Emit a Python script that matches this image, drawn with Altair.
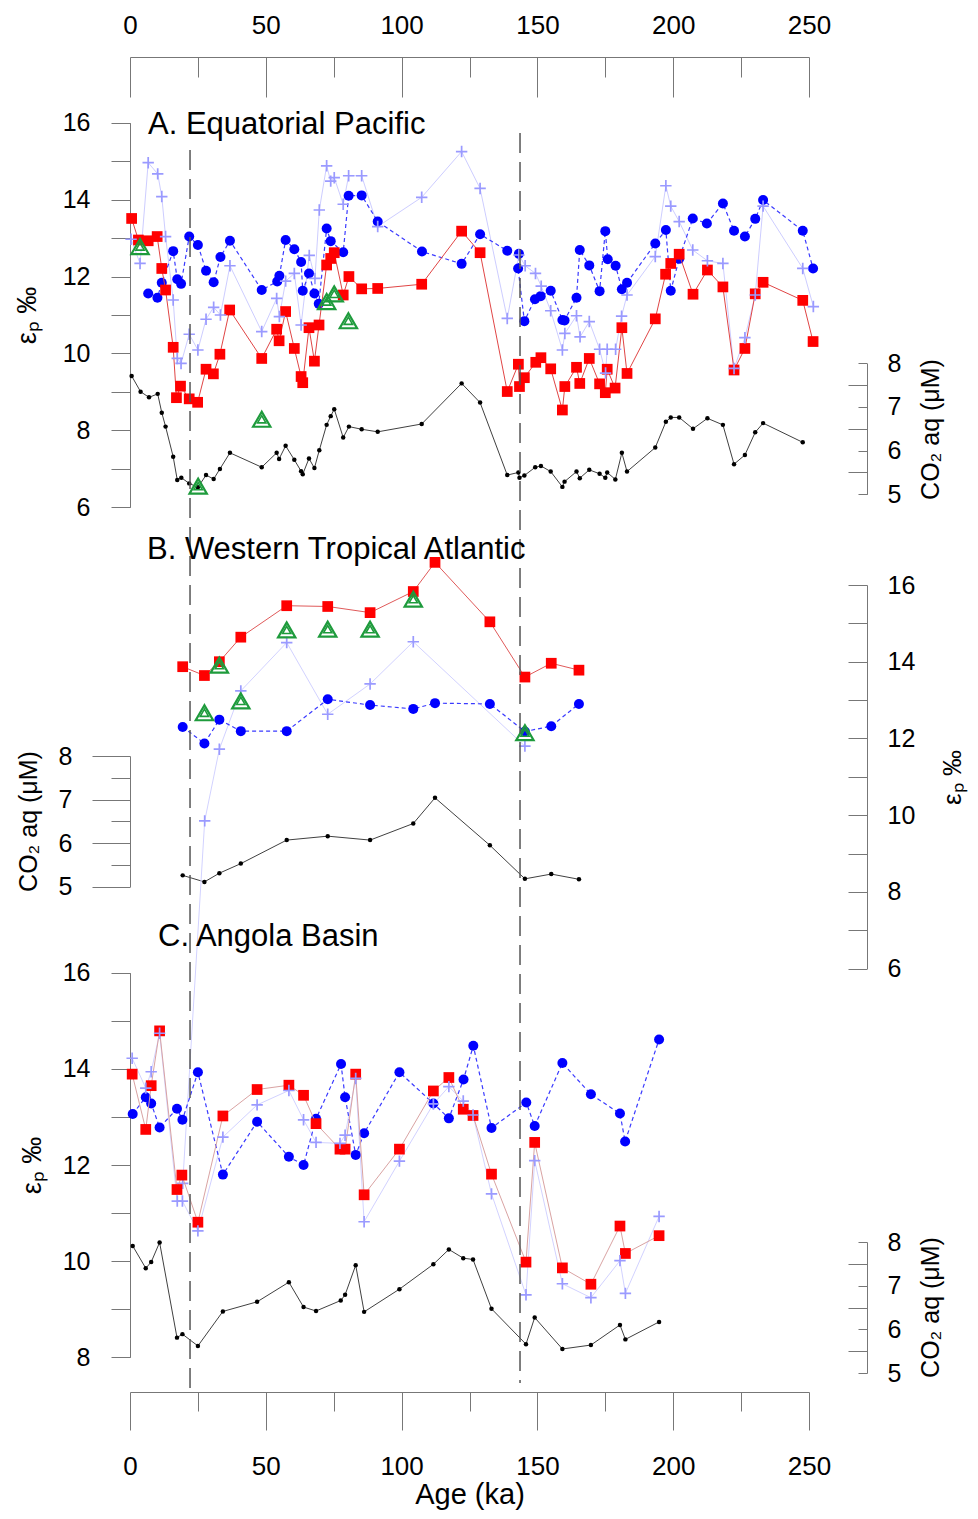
import altair as alt
import pandas as pd

FONT = "Liberation Sans"

# ---------------- data (Age in ka; eps_p in permil; CO2 aq in uM) ----------------
# A. Equatorial Pacific
a_red_age = [0.6, 3.1, 6.7, 10.0, 11.7, 13.1, 15.9, 17.1, 18.6, 21.8, 24.9, 28.0, 30.7, 33.1, 36.7, 48.5, 54.0, 54.9, 57.3, 60.5,
             63.0, 63.6, 65.9, 67.9, 69.6, 72.4, 73.9, 75.2, 78.5, 80.6, 85.3, 91.2, 107.4, 122.1, 128.9, 138.9, 143.0, 143.4, 145.2, 149.4,
             151.3, 154.9, 159.2, 160.1, 164.4, 165.6, 169.1, 172.9, 175.0, 175.7, 178.6, 181.1, 183.0, 193.4, 197.2, 199.1, 202.2, 207.3, 212.6, 218.3,
             222.4, 226.4, 230.2, 233.1, 247.7, 251.5]
a_red_ep = [13.51, 12.95, 12.93, 13.04, 12.21, 11.65, 10.16, 8.85, 9.15, 8.82, 8.73, 9.59, 9.47, 9.98, 11.13, 9.87, 10.63, 10.33, 11.09, 10.13,
            9.40, 9.24, 10.67, 9.80, 10.74, 12.30, 12.47, 12.62, 11.52, 12.00, 11.68, 11.69, 11.80, 13.18, 12.62, 9.01, 9.72, 9.14, 9.37, 9.77,
            9.89, 9.60, 8.53, 9.14, 9.64, 9.22, 9.87, 9.21, 8.98, 9.59, 9.10, 10.67, 9.48, 10.90, 12.06, 12.34, 12.58, 11.54, 12.17, 11.73,
            9.57, 10.13, 11.55, 11.85, 11.38, 10.31]
a_blue_age = [6.7, 10.1, 11.7, 15.9, 17.4, 18.8, 21.8, 25.0, 28.0, 30.8, 33.3, 36.8, 48.5, 54.2, 55.0, 57.3, 60.5, 63.0, 63.6, 65.9,
              67.9, 69.5, 72.4, 73.9, 78.5, 80.5, 85.3, 91.2, 107.5, 122.1, 128.9, 138.9, 143.2, 142.9, 145.2, 149.1, 151.2, 154.9, 159.2, 160.0,
              164.4, 165.6, 169.1, 172.9, 175.0, 175.9, 178.8, 181.1, 183.0, 193.4, 197.3, 199.1, 202.2, 207.2, 212.4, 218.3, 222.4, 226.4, 230.2, 233.1,
              247.7, 251.5]
a_blue_ep = [11.56, 11.45, 11.84, 12.66, 11.93, 11.81, 13.04, 12.82, 12.15, 11.85, 12.51, 12.93, 11.65, 11.87, 12.02, 12.95, 12.71, 12.38, 11.63, 12.08,
             11.56, 11.29, 13.25, 12.92, 12.63, 14.10, 14.11, 13.43, 12.65, 12.33, 13.10, 12.67, 12.59, 12.21, 10.84, 11.41, 11.49, 11.63, 10.87, 10.86,
             11.45, 12.69, 12.29, 11.62, 13.18, 12.45, 12.28, 11.67, 11.84, 12.86, 13.21, 11.63, 12.46, 13.51, 13.38, 13.90, 13.19, 13.04, 13.50, 13.99,
             13.19, 12.21]
a_cross_age = [0.4, 3.7, 6.7, 10.2, 11.7, 13.1, 15.9, 17.4, 18.8, 21.8, 25.0, 28.0, 30.8, 33.3, 36.8, 48.5, 54.0, 55.0, 57.3, 60.5,
               63.0, 66.0, 68.1, 69.7, 72.4, 73.9, 75.2, 78.5, 80.5, 85.3, 91.2, 107.4, 122.1, 128.9, 138.9, 143.2, 145.5, 149.3, 151.4, 154.9,
               159.2, 160.1, 164.4, 165.7, 169.1, 172.9, 175.1, 175.7, 178.8, 181.0, 183.0, 193.4, 197.3, 199.1, 202.2, 207.2, 212.6, 218.3, 222.4, 226.4,
               230.2, 233.1, 247.7, 251.6]
a_cross_ep = [12.97, 12.34, 14.96, 14.67, 14.08, 13.04, 11.39, 9.87, 9.74, 10.50, 10.09, 10.89, 11.20, 11.00, 12.28, 10.57, 11.43, 10.96, 11.88, 12.08,
              10.74, 12.55, 11.95, 13.73, 14.88, 14.48, 14.57, 13.88, 14.62, 14.62, 13.30, 14.06, 15.25, 14.29, 10.91, 12.56, 12.28, 12.08, 11.75, 11.11,
              10.09, 10.52, 10.98, 10.43, 10.83, 10.11, 9.49, 10.11, 10.11, 10.97, 11.52, 12.52, 14.36, 13.83, 13.43, 12.69, 12.41, 12.34, 9.61, 10.41,
              11.52, 13.83, 12.21, 11.22]
a_tri_age = [3.7, 25.1, 48.5, 72.4, 75.2, 80.4]
a_tri_ep = [12.78, 6.55, 8.29, 11.35, 11.55, 10.85]
a_co2_age = [0.6, 3.9, 7.0, 10.2, 11.7, 13.1, 15.9, 17.4, 18.9, 21.8, 25.0, 28.0, 30.8, 33.1, 36.8, 48.5, 54.0, 54.9, 57.3, 60.5,
             63.0, 63.6, 65.9, 67.9, 69.7, 72.4, 73.9, 75.2, 78.5, 80.6, 85.3, 91.2, 107.4, 122.1, 128.9, 138.9, 143.0, 143.4, 145.2, 149.2,
             151.3, 154.9, 159.2, 160.0, 164.4, 165.6, 169.1, 172.9, 175.0, 175.7, 178.7, 181.1, 183.0, 193.4, 197.3, 199.1, 202.2, 207.3, 212.6, 218.3,
             222.4, 226.4, 230.2, 233.1, 247.7]
a_co2 = [7.71, 7.35, 7.22, 7.30, 6.87, 6.55, 5.86, 5.33, 5.38, 5.25, 5.16, 5.44, 5.35, 5.58, 5.95, 5.62, 5.95, 5.81, 6.11, 5.79,
         5.53, 5.46, 5.82, 5.60, 6.01, 6.59, 6.79, 6.95, 6.30, 6.55, 6.49, 6.43, 6.61, 7.54, 7.10, 5.44, 5.50, 5.38, 5.43, 5.62,
         5.65, 5.52, 5.17, 5.29, 5.52, 5.37, 5.56, 5.47, 5.38, 5.50, 5.34, 5.95, 5.52, 6.07, 6.66, 6.76, 6.76, 6.50, 6.74, 6.59,
         5.69, 5.90, 6.42, 6.63, 6.19]

# B. Western Tropical Atlantic
b_age = [19.4, 27.4, 32.9, 40.8, 57.7, 72.8, 88.4, 104.3, 112.3, 132.5, 145.4, 155.1, 165.3]
b_red_ep = [13.87, 13.64, 14.00, 14.64, 15.46, 15.44, 15.28, 15.83, 16.59, 15.04, 13.60, 13.96, 13.78]
b_blue_ep = [12.30, 11.87, 12.49, 12.19, 12.19, 13.02, 12.87, 12.77, 12.92, 12.90, 12.18, 12.32, 12.90]
b_cross_age = [19.4, 27.5, 32.9, 40.8, 57.7, 72.8, 88.4, 104.3, 145.4]
b_cross_ep = [0.40, 9.85, 11.72, 13.24, 14.50, 12.63, 13.42, 14.52, 11.80]
b_tri_age = [27.4, 32.9, 40.8, 57.7, 72.8, 88.4, 104.3, 145.4]
b_tri_ep = [12.67, 13.91, 12.98, 14.83, 14.85, 14.85, 15.63, 12.15]
b_co2 = [5.26, 5.11, 5.31, 5.53, 6.07, 6.16, 6.07, 6.45, 7.04, 5.95, 5.18, 5.29, 5.17]

# C. Angola Basin
c_red_age = [0.8, 5.8, 7.8, 10.9, 17.3, 19.1, 25.0, 34.2, 46.8, 58.5, 63.9, 68.5, 77.3, 79.2, 83.1, 86.2, 99.2, 111.7, 117.4, 122.7,
             126.3, 133.1, 145.8, 149.0, 159.2, 169.7, 180.4, 182.4, 194.8]
c_red_ep = [13.89, 12.74, 13.65, 14.79, 11.49, 11.79, 10.81, 13.02, 13.57, 13.66, 13.45, 12.86, 12.33, 12.33, 13.89, 11.38, 12.33, 13.54, 13.82, 13.16,
            13.03, 11.81, 9.98, 12.47, 9.86, 9.52, 10.73, 10.16, 10.53]
c_blue_age = [1.0, 5.8, 7.8, 10.9, 17.3, 19.3, 25.0, 34.2, 46.8, 58.5, 63.9, 68.5, 77.7, 79.2, 83.1, 86.2, 99.2, 111.7, 117.4, 122.8,
              126.4, 133.1, 145.9, 149.0, 159.2, 169.7, 180.4, 182.3, 194.8]
c_blue_ep = [13.06, 13.41, 13.28, 12.78, 13.17, 12.94, 13.93, 11.80, 12.90, 12.17, 12.00, 12.96, 14.10, 13.41, 12.21, 12.66, 13.93, 13.28, 12.97, 13.78,
             14.48, 12.77, 13.30, 12.81, 14.12, 13.47, 13.07, 12.49, 14.61]
c_cross_age = [0.8, 5.8, 7.8, 10.9, 17.4, 19.3, 25.0, 34.2, 46.8, 58.5, 63.9, 68.5, 77.3, 79.2, 83.1, 86.2, 99.2, 111.7, 117.4, 122.7,
               126.3, 133.1, 145.8, 149.0, 159.2, 169.7, 180.4, 182.4, 194.8]
c_cross_ep = [14.22, 13.60, 13.94, 14.74, 11.25, 11.25, 10.63, 12.58, 13.25, 13.55, 12.94, 12.47, 12.45, 12.62, 13.80, 10.82, 12.08, 13.27, 13.63, 13.33,
              13.04, 11.40, 9.30, 12.09, 9.53, 9.24, 10.01, 9.33, 10.93]
c_co2_age = [1.0, 5.8, 7.8, 10.9, 17.3, 19.3, 25.0, 34.2, 46.8, 58.5, 63.9, 68.5, 77.6, 79.2, 83.1, 86.2, 99.2, 111.7, 117.4, 122.7,
             126.3, 133.1, 145.8, 149.0, 159.2, 169.7, 180.4, 182.4, 194.8]
c_co2 = [7.91, 7.40, 7.54, 7.99, 5.81, 5.89, 5.62, 6.41, 6.63, 7.08, 6.51, 6.42, 6.66, 6.79, 7.47, 6.40, 6.92, 7.49, 7.83, 7.63,
         7.60, 6.47, 5.66, 6.27, 5.55, 5.64, 6.10, 5.77, 6.17]

# guide values
x_major = [0, 50, 100, 150, 200, 250]
x_minor = [25, 75, 125, 175, 225]
ep_ticks_a = [6, 7, 8, 9, 10, 11, 12, 13, 14, 15, 16]
ep_ticks_c = [8, 9, 10, 11, 12, 13, 14, 15, 16]
co2_major = [5, 6, 7, 8]
co2_minor = [5.5, 6.5, 7.5]
dashed_ages = [22.1, 143.6]
panel_titles = ["A. Equatorial Pacific", "B. Western Tropical Atlantic", "C. Angola Basin"]
EP_TITLE = "\u03b5\u209a \u2030"
CO2_TITLE = "CO\u2082 aq (\u03bcM)"
X_TITLE = "Age (ka)"

# ---------------- layout ----------------
W, H = 679, 1384
XS = alt.Scale(domain=[0, 250], nice=False, zero=False)
X = alt.X("age:Q", scale=XS, axis=None)


def ys(domain, rng):
    return alt.Scale(domain=domain, range=rng, nice=False, zero=False)


A_EP = ys([6, 16], [499.3, 114.7])
A_CO2 = ys([5, 8], [486.3, 355.3])
B_EP = ys([6, 16], [960.6, 577.0])
B_CO2 = ys([5, 8], [878.7, 748.0])
C_EP = ys([8, 16], [1349.3, 964.7])
C_CO2 = ys([5, 8], [1365.0, 1234.0])

GREY = "#777777"
RED = "#FF0000"
BLUE = "#0000FF"
LBLUE = "#9A9AFF"
GREEN = "#1E9B3C"
CROSS = "M-1,0L1,0M0,-1L0,1"


def df(ages, vals):
    return pd.DataFrame({"age": ages, "v": vals, "i": list(range(len(ages)))})


def line(d, scale, color, width=1.0, dash=None):
    kw = dict(color=color, strokeWidth=width)
    if dash:
        kw["strokeDash"] = dash
    return alt.Chart(d).mark_line(**kw).encode(
        x=X, y=alt.Y("v:Q", scale=scale, axis=None), order="i:Q")


def pts(d, scale, kind, **kw):
    ch = alt.Chart(d)
    if kind == "circle":
        m = ch.mark_circle(opacity=1, **kw)
    elif kind == "square":
        m = ch.mark_square(opacity=1, **kw)
    else:
        m = ch.mark_point(opacity=1, **kw)
    return m.encode(x=X, y=alt.Y("v:Q", scale=scale, axis=None))


def panel(red, blue, cross, tri, co2, ep_s, co2_s, red_line_color, cross_line_color):
    L = []
    L.append(line(co2, co2_s, "#404040", 1.0))
    L.append(pts(co2, co2_s, "circle", size=20, color="black"))
    L.append(line(cross, ep_s, cross_line_color, 1.0))
    L.append(line(blue, ep_s, "#3A3AFF", 1.2, [4, 3]))
    L.append(pts(blue, ep_s, "circle", size=100, color=BLUE))
    L.append(line(red, ep_s, red_line_color, 1.0))
    L.append(pts(red, ep_s, "square", size=115, color=RED))
    L.append(pts(cross, ep_s, "point", shape=CROSS, size=130, filled=False, color=LBLUE, strokeWidth=1.7))
    if tri is not None:
        L.append(pts(tri, ep_s, "point", shape="triangle-up", size=300, filled=False, color=GREEN, strokeWidth=2.2))
        L.append(pts(tri, ep_s, "point", shape="triangle-up", size=70, filled=False, color=GREEN, strokeWidth=1.6))
    return L


AX = dict(grid=False, labelFont=FONT, labelFontSize=25, labelColor="black", tickColor=GREY, domainColor=GREY,
          tickWidth=1, domainWidth=1, titleFont=FONT, titleFontSize=25, titleColor="black", titleFontWeight="normal",
          labelFlush=False, labelOverlap=False)


def yaxis(scale, values, **kw):
    opts = dict(AX)
    opts.update(kw)
    if "title" not in opts:
        opts["title"] = None
    d = pd.DataFrame({"t": values})
    return alt.Chart(d).mark_point(opacity=0).encode(
        y=alt.Y("t:Q", scale=scale, axis=alt.Axis(values=values, **opts)))


def xaxis(values, **kw):
    opts = dict(AX)
    opts.update(kw)
    if "title" not in opts:
        opts["title"] = None
    d = pd.DataFrame({"t": values})
    return alt.Chart(d).mark_point(opacity=0).encode(
        x=alt.X("t:Q", scale=XS, axis=alt.Axis(values=values, **opts)))


EVEN = "datum.value % 2 == 0 ? datum.label : ''"
RIGHT_X = 737  # position of the right-hand axes inside the view

layers = []
# data
layers += panel(df(a_red_age, a_red_ep), df(a_blue_age, a_blue_ep), df(a_cross_age, a_cross_ep),
                df(a_tri_age, a_tri_ep), df(a_co2_age, a_co2), A_EP, A_CO2, "#E04545", "#CDCDFF")
layers += panel(df(b_age, b_red_ep), df(b_age, b_blue_ep), df(b_cross_age, b_cross_ep),
                df(b_tri_age, b_tri_ep), df(b_age, b_co2), B_EP, B_CO2, "#E05A5A", "#D2D2FF")
layers += panel(df(c_red_age, c_red_ep), df(c_blue_age, c_blue_ep), df(c_cross_age, c_cross_ep),
                None, df(c_co2_age, c_co2), C_EP, C_CO2, "#D9A3A3", "#D2D2FF")

# dashed reference lines
dl = pd.DataFrame({"age": dashed_ages})
layers.append(alt.Chart(dl.iloc[[0]]).mark_rule(color="#555555", strokeDash=[20, 9], strokeWidth=1.5).encode(
    x=X, y=alt.value(142), y2=alt.value(1389)))
layers.append(alt.Chart(dl.iloc[[1]]).mark_rule(color="#555555", strokeDash=[20, 9], strokeWidth=1.5).encode(
    x=X, y=alt.value(125), y2=alt.value(1375)))

# panel titles
for t, (px, py) in zip(panel_titles, [(18, 126), (17, 551), (28, 938)]):
    layers.append(alt.Chart(pd.DataFrame({"t": [t]})).mark_text(
        align="left", baseline="alphabetic", font=FONT, fontSize=31, color="black").encode(
        text="t:N", x=alt.value(px), y=alt.value(py)))

# x axes (top and bottom)
layers.append(xaxis(x_major, orient="top", offset=-49, ticks=False, tickSize=0, labelPadding=19, domain=True,
                    labelFontSize=26))
layers.append(xaxis(x_major, orient="bottom", offset=-(H - 49), tickSize=40, labels=False, domain=False))
layers.append(xaxis(x_minor, orient="bottom", offset=-(H - 49), tickSize=20, labels=False, domain=False))
layers.append(xaxis(x_major, orient="bottom", offset=0, tickSize=38, labelPadding=23, domain=True, labelFontSize=26,
                    title=X_TITLE, titleFontSize=29, titleBaseline="alphabetic", titleY=111))
layers.append(xaxis(x_minor, orient="bottom", offset=0, tickSize=19, labels=False, domain=False))

# panel A axes
layers.append(yaxis(A_EP, ep_ticks_a, orient="left", offset=0, tickSize=19, labelPadding=21, labelExpr=EVEN,
                    title=EP_TITLE, titleX=-103, titleY=307, titleAngle=270, titleAlign="center",
                    titleBaseline="middle", titleFontSize=27))
layers.append(yaxis(A_CO2, co2_major, orient="left", offset=-RIGHT_X, tickSize=9, labels=False, domain=True))
layers.append(yaxis(A_CO2, co2_minor, orient="left", offset=-RIGHT_X, tickSize=19, labels=False, domain=False))
layers.append(yaxis(A_CO2, co2_major, orient="right", offset=RIGHT_X - W, ticks=False, tickSize=0, labelPadding=20,
                    domain=False, title=CO2_TITLE, titleX=63, titleY=421, titleAngle=270, titleAlign="center",
                    titleBaseline="middle"))
# panel B axes
layers.append(yaxis(B_CO2, co2_major, orient="left", offset=0, tickSize=38, labelPadding=20, domain=True,
                    title=CO2_TITLE, titleX=-102, titleY=813, titleAngle=270, titleAlign="center",
                    titleBaseline="middle"))
layers.append(yaxis(B_CO2, co2_minor, orient="left", offset=0, tickSize=19, labels=False, domain=False))
layers.append(yaxis(B_EP, ep_ticks_a, orient="left", offset=-RIGHT_X, tickSize=19, labels=False, domain=True))
layers.append(yaxis(B_EP, ep_ticks_a, orient="right", offset=RIGHT_X - W, ticks=False, tickSize=0, labelPadding=20,
                    labelExpr=EVEN, domain=False, title=EP_TITLE, titleX=85, titleY=769, titleAngle=270,
                    titleAlign="center", titleBaseline="middle", titleFontSize=26))
# panel C axes
layers.append(yaxis(C_EP, ep_ticks_c, orient="left", offset=0, tickSize=19, labelPadding=21, labelExpr=EVEN,
                    title=EP_TITLE, titleX=-98, titleY=1157, titleAngle=270, titleAlign="center",
                    titleBaseline="middle", titleFontSize=27))
layers.append(yaxis(C_CO2, co2_major, orient="left", offset=-RIGHT_X, tickSize=9, labels=False, domain=True))
layers.append(yaxis(C_CO2, co2_minor, orient="left", offset=-RIGHT_X, tickSize=19, labels=False, domain=False))
layers.append(yaxis(C_CO2, co2_major, orient="right", offset=RIGHT_X - W, ticks=False, tickSize=0, labelPadding=20,
                    domain=False, title=CO2_TITLE, titleX=63, titleY=1299, titleAngle=270, titleAlign="center",
                    titleBaseline="middle"))

chart = alt.layer(*layers).properties(
    width=W, height=H,
    padding={"left": 122, "top": 0, "right": 161, "bottom": 119},
    autosize=alt.AutoSizeParams(type="none"),
).resolve_scale(y="independent").resolve_axis(x="independent", y="independent").configure_view(stroke=None)

chart.save("out.html", embed_options={"renderer": "svg", "actions": False})
